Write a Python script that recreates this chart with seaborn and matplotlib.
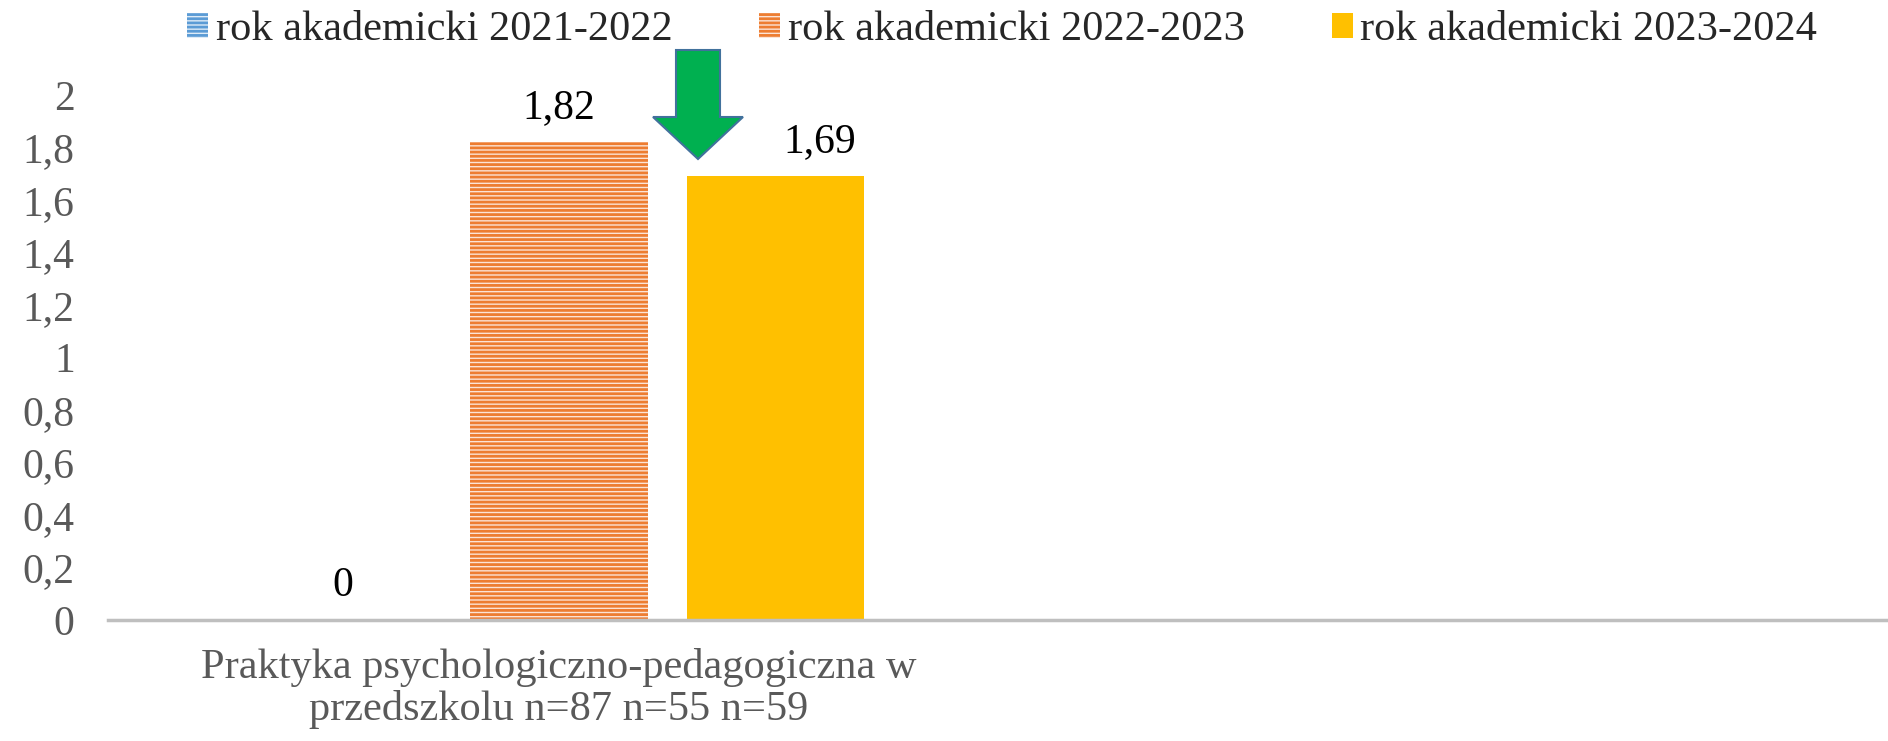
import numpy as np
import pandas as pd
import seaborn as sns
import matplotlib.pyplot as plt
from matplotlib.patches import Patch, Polygon

# data
categories = ["Praktyka psychologiczno-pedagogiczna w\nprzedszkolu n=87 n=55 n=59"]
years = ["rok akademicki 2021-2022", "rok akademicki 2022-2023", "rok akademicki 2023-2024"]
values = [0.0, 1.82, 1.69]
yticks = [0, 0.2, 0.4, 0.6, 0.8, 1, 1.2, 1.4, 1.6, 1.8, 2]

colors = ["#5B9BD5", "#ED7D31", "#FFC000"]
faces = ["#DEEBF7", "#FCE4D6", "#FFC000"]
hatches = ["----", "----", None]
# horizontal shift (pt) of the value labels; last one moved aside for the arrow
label_dx = [0, 0, 32]

df = pd.DataFrame({"kategoria": categories * len(years), "rok": years, "wartosc": values})

sns.set_style("white")
plt.rcParams["font.family"] = ["Liberation Serif", "DejaVu Serif"]
plt.rcParams["hatch.linewidth"] = 2.0

fig = plt.figure(figsize=(18.88, 7.41), dpi=100)
W, H = 1888, 741
ax = fig.add_axes([108 / W, 1 - 620 / H, 1 - 108 / W, (620 - 95) / H])

sns.barplot(data=df, x="kategoria", y="wartosc", hue="rok", palette=colors,
            width=0.72, gap=0.18, ax=ax, legend=False, errorbar=None)

# styling of bars (hatched fills for first two series)
for cont, col, fc, h, dx in zip(ax.containers, colors, faces, hatches, label_dx):
    for p in cont:
        if h:
            p.set_facecolor(fc)
            p.set_edgecolor(col)
            p.set_hatch(h)
            p.set_linewidth(0)
        else:
            p.set_facecolor(col)
            p.set_linewidth(0)
    texts = ax.bar_label(cont, labels=[f"{v:.2f}".rstrip("0").rstrip(".").replace(".", ",")
                                       for v in cont.datavalues],
                         padding=11, fontsize=30, color="black")
    for t in texts:
        t.xyann = (dx, t.xyann[1])

ax.set_xlim(-0.5, 1.473)
ax.set_ylim(0, 2)
ax.set_yticks(yticks)
ax.set_yticklabels([f"{t:g}".replace(".", ",") for t in yticks])
ax.tick_params(axis="y", length=0, pad=24, labelsize=30, labelcolor="#595959")
ax.tick_params(axis="x", length=0, pad=20, labelsize=30.5, labelcolor="#595959")
for lbl in ax.get_xticklabels():
    lbl.set_linespacing(1.12)
ax.set_xlabel("")
ax.set_ylabel("")
for s in ["top", "right", "left"]:
    ax.spines[s].set_visible(False)
ax.spines["bottom"].set_color("#BFBFBF")
ax.spines["bottom"].set_linewidth(2.5)

handles = [Patch(facecolor=fc if h else c, edgecolor=c, hatch=h, linewidth=0)
           for c, fc, h in zip(colors, faces, hatches)]
fig.legend(handles, years, loc="center", bbox_to_anchor=(0.5 * (1 + 108 / W) + 4 / W, 1 - 30 / H),
           ncol=3, frameon=False, fontsize=30.5, handlelength=0.5, handleheight=0.55,
           handletextpad=0.18, columnspacing=2.05, borderaxespad=0, borderpad=0)

# green down arrow between the two later bars
pts = [(676, 50), (720, 50), (720, 117), (743, 117), (698, 159), (653, 117), (676, 117)]
arrow = Polygon([(x / W, 1 - y / H) for x, y in pts], closed=True, transform=fig.transFigure,
                facecolor="#00B050", edgecolor="#41719C", linewidth=1.5, zorder=5)
fig.patches.append(arrow)

fig.savefig("out.png", dpi=100)
